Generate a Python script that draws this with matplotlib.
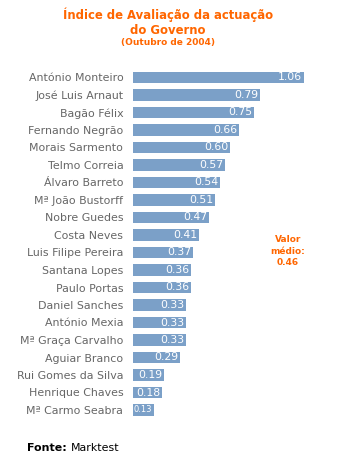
import matplotlib
matplotlib.use("Agg")
import matplotlib.pyplot as plt

nomes = ["António Monteiro", "José Luis Arnaut", "Bagão Félix", "Fernando Negrão",
         "Morais Sarmento", "Telmo Correia", "Álvaro Barreto", "Mª João Bustorff",
         "Nobre Guedes", "Costa Neves", "Luis Filipe Pereira", "Santana Lopes",
         "Paulo Portas", "Daniel Sanches", "António Mexia", "Mª Graça Carvalho",
         "Aguiar Branco", "Rui Gomes da Silva", "Henrique Chaves", "Mª Carmo Seabra"]
valores = [1.06, 0.79, 0.75, 0.66, 0.60, 0.57, 0.54, 0.51, 0.47, 0.41,
           0.37, 0.36, 0.36, 0.33, 0.33, 0.33, 0.29, 0.19, 0.18, 0.13]
media = 0.46

laranja = "#FF6600"
azul = "#7BA0C8"

fig = plt.figure(figsize=(3.44, 4.61), dpi=100)
ax = fig.add_axes([133/344, 42.25/461, 209.7/344, 350/461])

pos = range(len(nomes))
ax.barh(pos, valores, height=0.63, color=azul)
ax.set_xlim(0, 1.30)
ax.set_ylim(len(nomes) - 0.5, -0.5)
ax.set_yticks(list(pos))
ax.set_yticklabels(nomes, fontsize=7.9, color="#666666")
ax.tick_params(axis="y", length=0, pad=7)
ax.set_xticks([])
for s in ax.spines.values():
    s.set_visible(False)

for i, v in enumerate(valores):
    fs = 6 if v < 0.15 else 7.8
    ax.text(v - 0.01, i, "%.2f" % v, ha="right", va="center",
            color="white", fontsize=fs)

fig.text(168/344, 1 - 15/461, "Índice de Avaliação da actuação", ha="center", va="center",
         color=laranja, fontsize=8.4, fontweight="bold")
fig.text(168/344, 1 - 30/461, "do Governo", ha="center", va="center",
         color=laranja, fontsize=8.4, fontweight="bold")
fig.text(168/344, 1 - 43/461, "(Outubro de 2004)", ha="center", va="center",
         color=laranja, fontsize=6.5, fontweight="bold")

fig.text(288/344, 1 - 251/461, "Valor\nmédio:\n%.2f" % media, ha="center", va="center",
         color=laranja, fontsize=6.5, fontweight="bold", linespacing=1.3)

fig.text(27/344, 1 - 448/461, "Fonte:", ha="left", va="center",
         color="black", fontsize=7.9, fontweight="bold")
fig.text(71/344, 1 - 448/461, "Marktest", ha="left", va="center",
         color="black", fontsize=7.9)

fig.savefig("out.png", dpi=100)
